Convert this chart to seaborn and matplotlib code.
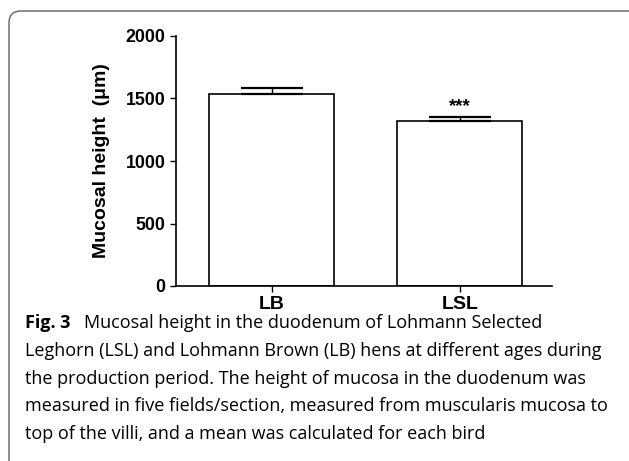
import matplotlib
matplotlib.use("Agg")
import matplotlib.pyplot as plt
import seaborn as sns
from matplotlib.patches import FancyBboxPatch
from matplotlib.transforms import IdentityTransform

# Data
groups = ["LB", "LSL"]
means = [1534, 1317]
sem = [53, 32]
stars = ["", "***"]
yticks = [0, 500, 1000, 1500, 2000]

caption_bold = "Fig. 3"
caption_lines = [
    "Mucosal height in the duodenum of Lohmann Selected",
    "Leghorn (LSL) and Lohmann Brown (LB) hens at different ages during",
    "the production period. The height of mucosa in the duodenum was",
    "measured in five fields/section, measured from muscularis mucosa to",
    "top of the villi, and a mean was calculated for each bird",
]

sns.set_style("ticks")
plt.rcParams['font.family'] = ['Liberation Sans', 'DejaVu Sans']
plt.rcParams['text.color'] = 'black'
plt.rcParams['axes.labelcolor'] = 'black'
plt.rcParams['xtick.color'] = 'black'
plt.rcParams['ytick.color'] = 'black'

fig = plt.figure(figsize=(6.29, 4.61), dpi=100)
ax = fig.add_axes([176 / 629, 1 - 286 / 461, 376 / 629, 250 / 461])

sns.barplot(x=groups, y=means, color="white", edgecolor="black",
            linewidth=1.2, width=0.665, errorbar=None, ax=ax)
for bar in ax.patches:
    bar.set_facecolor("white")

# upper error bar only (SEM)
ax.errorbar(range(len(groups)), means, yerr=[[0] * len(sem), sem], fmt="none",
            ecolor="black", elinewidth=1.0, capsize=22, capthick=1.6)

for i, s in enumerate(stars):
    if s:
        ax.text(i, means[i] + sem[i] + 15, s, ha="center", va="bottom",
                fontsize=13.5, fontweight="bold")

ax.set_ylim(0, 2000)
ax.set_xlim(-0.51, 1.49)
ax.set_yticks(yticks)
ax.set_ylabel("Mucosal height  (\u03bcm)", fontsize=14, fontweight="bold", labelpad=11)
ax.set_xlabel("")
ax.tick_params(axis="both", length=4, width=1, color="black", labelcolor="black",
               labelsize=12.8)
for lab in ax.get_xticklabels() + ax.get_yticklabels():
    lab.set_fontweight("bold")
ax.tick_params(axis="x", labelsize=14)
sns.despine(ax=ax)
for sp in ["left", "bottom"]:
    ax.spines[sp].set_linewidth(1.2)
    ax.spines[sp].set_color("black")

# rounded frame around the figure panel
frame = FancyBboxPatch((9, -20), 660, 461 - 11 + 20,
                       boxstyle="round,pad=0,rounding_size=12",
                       transform=IdentityTransform(), fill=False,
                       edgecolor="#6e6e6e", linewidth=1.1)
fig.add_artist(frame)

# caption
cap_family = ["Open Sans", "DejaVu Sans"]
cap_size = 13.0
y0 = 1 - 328 / 461
dy = 27.8 / 461
t = fig.text(25 / 629, y0, caption_bold, fontsize=cap_size, fontweight="bold",
             family=cap_family, va="baseline")
fig.canvas.draw()
bb = t.get_window_extent(fig.canvas.get_renderer())
fig.text(bb.x1 / fig.bbox.width + 13 / 629, y0, caption_lines[0], fontsize=cap_size,
         family=cap_family, va="baseline")
for k, line in enumerate(caption_lines[1:], start=1):
    fig.text(25 / 629, y0 - k * dy, line, fontsize=cap_size, family=cap_family,
             va="baseline")

fig.savefig("out.png", dpi=100)
